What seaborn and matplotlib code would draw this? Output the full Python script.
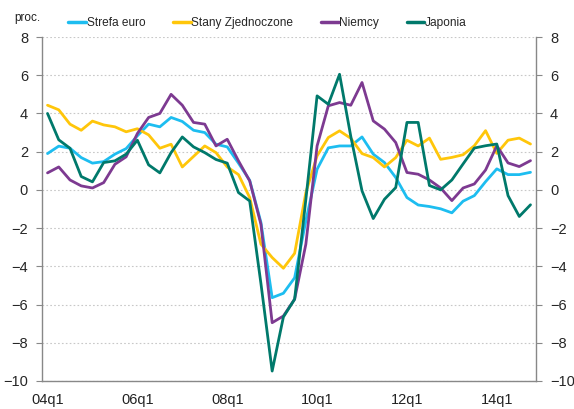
import numpy as np
import pandas as pd
import matplotlib
matplotlib.use("Agg")
import matplotlib.pyplot as plt
import seaborn as sns

# kwartaly 2004q1 - 2014q4
quarters = [f"{y:02d}q{q}" for y in range(4, 15) for q in range(1, 5)]

strefa_euro = [1.9, 2.29, 2.18, 1.69, 1.4, 1.48, 1.87, 2.16, 2.83, 3.44, 3.3, 3.79,
               3.58, 3.12, 3.0, 2.39, 2.25, 1.4, 0.5, -1.7, -5.64, -5.41, -4.6, -1.62,
               1.08, 2.2, 2.3, 2.3, 2.77, 1.87, 1.43, 0.65, -0.4, -0.79, -0.87, -0.99,
               -1.2, -0.59, -0.3, 0.43, 1.1, 0.8, 0.8, 0.92]
stany_zjednoczone = [4.43, 4.19, 3.44, 3.12, 3.6, 3.4, 3.3, 3.04, 3.2, 2.88, 2.18, 2.39,
                     1.2, 1.75, 2.3, 1.95, 1.2, 0.8, -0.4, -2.84, -3.54, -4.1, -3.32, -0.14,
                     1.78, 2.74, 3.09, 2.7, 1.9, 1.69, 1.2, 1.69, 2.6, 2.3, 2.71, 1.6,
                     1.7, 1.84, 2.31, 3.1, 1.91, 2.6, 2.71, 2.4]
niemcy = [0.89, 1.2, 0.52, 0.21, 0.1, 0.38, 1.34, 1.73, 2.95, 3.79, 4.0, 5.0,
          4.43, 3.53, 3.44, 2.3, 2.65, 1.52, 0.47, -1.8, -6.95, -6.6, -5.72, -2.84,
          2.3, 4.4, 4.57, 4.43, 5.62, 3.61, 3.18, 2.48, 0.91, 0.82, 0.52, 0.1,
          -0.56, 0.1, 0.31, 1.04, 2.31, 1.41, 1.22, 1.53]
japonia = [4.0, 2.62, 2.18, 0.7, 0.42, 1.43, 1.52, 1.87, 2.6, 1.31, 0.89, 1.95,
           2.77, 2.25, 1.95, 1.59, 1.4, -0.14, -0.58, -4.9, -9.48, -6.65, -5.72, -0.5,
           4.92, 4.48, 6.05, 2.8, -0.05, -1.5, -0.49, 0.12, 3.53, 3.53, 0.23, 0.0,
           0.52, 1.36, 2.19, 2.31, 2.4, -0.3, -1.39, -0.78]

series_names = ["Strefa euro", "Stany Zjednoczone", "Niemcy", "Japonia"]
colors = ["#1dbdf0", "#ffc60a", "#7d3a91", "#00796b"]

df = pd.DataFrame({"idx": np.arange(len(quarters)),
                   "Strefa euro": strefa_euro,
                   "Stany Zjednoczone": stany_zjednoczone,
                   "Niemcy": niemcy,
                   "Japonia": japonia})
long = df.melt(id_vars="idx", var_name="seria", value_name="wartosc")

sns.set_style("white")
plt.rcParams['font.family'] = ['Liberation Sans', 'DejaVu Sans']

fig = plt.figure(figsize=(5.74, 4.09), dpi=100)
ax = fig.add_axes([0.073, 0.0685, 0.861, 0.841])

sns.lineplot(data=long, x="idx", y="wartosc", hue="seria", hue_order=series_names,
             palette=dict(zip(series_names, colors)), linewidth=2.0, ax=ax, legend=False)

ax.set_xlim(-0.5, len(quarters) - 0.5)
ax.set_ylim(-10, 8)
ax.set_yticks(range(-10, 9, 2))
ax.yaxis.grid(True, linestyle=(0, (1.5, 2)), color="#c8c8c8", linewidth=0.8)
ax.set_axisbelow(True)

lab_pos = list(range(0, len(quarters), 8))
ax.set_xticks(lab_pos)
ax.set_xticklabels([quarters[i] for i in lab_pos])
ax.set_xticks([p - 0.5 for p in lab_pos], minor=True)
ax.tick_params(axis="x", which="major", length=0, pad=9, labelsize=10.5, colors="#222222")
ax.tick_params(axis="x", which="minor", length=4, color="#888888", direction="out")
ax.tick_params(axis="y", length=4, color="#888888", direction="out", labelsize=10.5,
               left=True, right=True, labelleft=True, labelright=True, pad=6)
ax.set_xlabel("")
ax.set_ylabel("")

for s in ["left", "right", "bottom"]:
    ax.spines[s].set_color("#888888")
    ax.spines[s].set_linewidth(1.0)
ax.spines["top"].set_visible(False)

fig.text(0.025, 0.955, "proc.", fontsize=8.5, color="#222222", va="center")

handles = [plt.Line2D([0], [0], color=c, linewidth=2.5) for c in colors]
fig.legend(handles, series_names, loc="center", bbox_to_anchor=(0.466, 0.944), ncol=4,
           frameon=False, fontsize=8.6, handlelength=1.5, handletextpad=0.05,
           columnspacing=2.3)

fig.savefig("out.png", dpi=100)
